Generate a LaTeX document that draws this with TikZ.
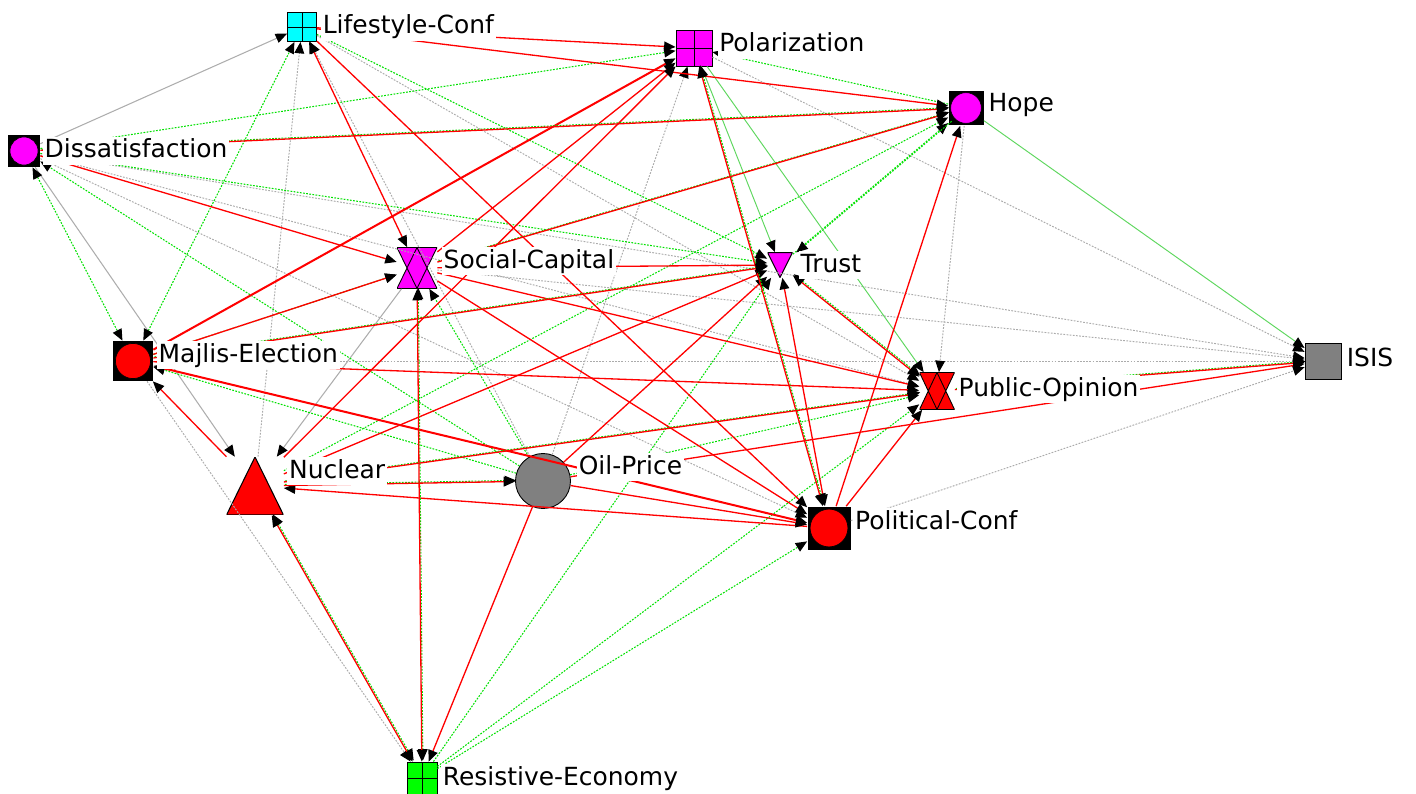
\documentclass[tikz,border=0pt]{standalone}
\usepackage{fontspec}
\setmainfont{DejaVu Sans}
\usetikzlibrary{positioning,arrows.meta}

\definecolor{mag}{RGB}{255,0,255}
\definecolor{cya}{RGB}{0,255,255}
\definecolor{lime}{RGB}{0,255,0}

% red edge with a green one beside it
\newcommand{\rgedge}[3][->]{%
  \draw[gdots,#1,transform canvas={shift={(0.6pt,0.6pt)}}] (#2) -- (#3);
  \draw[rline,#1] (#2) -- (#3);}

\begin{document}
\begin{tikzpicture}[x=0.02cm,y=-0.02cm,
  >={Triangle[length=6.5pt,width=5.5pt,color=black]},
  sq/.style={rectangle, draw=black, line width=0.5pt, inner sep=0pt, minimum size=#1},
  cross4/.style={path picture={\draw[line width=0.5pt]
      (path picture bounding box.north) -- (path picture bounding box.south)
      (path picture bounding box.west) -- (path picture bounding box.east);}},
  blk/.style 2 args={rectangle, fill=black, inner sep=0pt, minimum size=#1,
    path picture={\filldraw[fill=#2, draw=black, line width=0.4pt]
      (path picture bounding box.center) circle [radius=0.44*#1];}},
  tri/.style={rectangle, inner sep=0pt, path picture={\filldraw[fill=#1, draw=black, line width=0.6pt]
      (path picture bounding box.south west) -- (path picture bounding box.north)
      -- (path picture bounding box.south east) -- cycle;}},
  vtri/.style={rectangle, inner sep=0pt, path picture={\filldraw[fill=#1, draw=black, line width=0.6pt]
      (path picture bounding box.north west) -- (path picture bounding box.south)
      -- (path picture bounding box.north east) -- cycle;}},
  hglass/.style={rectangle, inner sep=0pt, path picture={
      \fill[#1] (path picture bounding box.north west) -- (path picture bounding box.south)
      -- (path picture bounding box.north east) -- cycle;
      \fill[#1] (path picture bounding box.south west) -- (path picture bounding box.north)
      -- (path picture bounding box.south east) -- cycle;
      \draw[line width=0.5pt] (path picture bounding box.north west) -- (path picture bounding box.south)
      -- (path picture bounding box.north east) -- cycle
      (path picture bounding box.south west) -- (path picture bounding box.north)
      -- (path picture bounding box.south east) -- cycle;}},
  lbl/.style={fill=white, inner sep=1pt, text height=0.38cm, text depth=0.1cm,
    font=\fontsize{14.2pt}{17pt}\selectfont},
  rline/.style={draw=red, line width=0.75pt},
  rthick/.style={draw=red, line width=1.15pt},
  gdots/.style={draw={rgb,255:red,0;green,225;blue,0}, line width=0.6pt, dash pattern=on 1pt off 0.8pt},
  gline/.style={draw={rgb,255:red,95;green,215;blue,95}, line width=0.55pt},
  ydots/.style={draw=black!33, line width=0.55pt, dash pattern=on 1pt off 0.8pt},
  yline/.style={draw=black!32, line width=0.6pt}]

\useasboundingbox (0,0) rectangle (1416,794);

% actors
\node[blk={0.64cm}{mag}] (DI) at (24,151) {};
\node[sq=0.58cm, fill=cya, cross4] (LC) at (302,27) {};
\node[sq=0.72cm, fill=mag, cross4] (PO) at (694,48) {};
\node[blk={0.7cm}{mag}] (HO) at (966,108) {};
\node[hglass=mag, minimum width=0.8cm, minimum height=0.82cm] (SC) at (417,268) {};
\node[vtri=mag, minimum width=0.5cm, minimum height=0.5cm] (TR) at (780,265) {};
\node[blk={0.8cm}{red}] (ME) at (133,361) {};
\node[sq=0.72cm, fill=black!50] (IS) at (1323,361) {};
\node[hglass=red, minimum width=0.7cm, minimum height=0.74cm] (PU) at (937,391) {};
\node[tri=red, minimum width=1.14cm, minimum height=1.16cm] (NU) at (255,486) {};
\node[circle, draw=black, line width=0.5pt, fill=black!50, minimum size=1.1cm, inner sep=0pt] (OP) at (543,481) {};
\node[blk={0.86cm}{red}] (PC) at (829,528) {};
\node[sq=0.6cm, minimum height=0.64cm, fill=lime, cross4] (RE) at (422,778) {};

% grey ties
\draw[ydots,->] (NU) -- (LC);
\draw[ydots,->] (OP) -- (LC);
\draw[ydots,->] (LC) -- (PU);
\draw[ydots,->] (DI) -- (PU);
\draw[ydots,->] (DI) -- (PC);
\draw[ydots,->] (DI) -- (IS);
\draw[ydots,->] (PO) -- (IS);
\draw[ydots,->] (OP) -- (PO);
\draw[ydots,->] (ME) -- (IS);
\draw[ydots,->] (ME) -- (RE);
\draw[ydots,->] (SC) -- (IS);
\draw[ydots,->] (PC) -- (IS);
\draw[ydots,->] (HO) -- (PU);
\draw[yline,->] (DI) -- (LC);
\draw[yline,->] (DI) -- (NU);
\draw[yline,->] (SC) -- (NU);

% green ties
\draw[gdots,<->] (ME) -- (LC);
\draw[gdots,->] (LC) -- (TR);
\draw[gdots,->] (DI) -- (PO);
\draw[gdots,->] (DI) -- (TR);
\draw[gdots,->] (OP) -- (DI);
\draw[gdots,<->] (DI) -- (ME);
\draw[gdots,->] (HO) -- (PO);
\draw[gdots,->] (ME) -- (SC);
\draw[gdots,->] (OP) -- (SC);
\draw[gdots,->] (NU) -- (HO);
\draw[gdots,->] (OP) -- (ME);
\draw[gdots,->] (RE) -- (TR);
\draw[gdots,->] (RE) -- (PU);
\draw[gdots,->] (RE) -- (PC);
\draw[gdots,->] (OP) -- (PU);
\draw[gdots,->] (TR) -- (HO);
\draw[gdots,->,transform canvas={shift={(2pt,1pt)}}] (HO) -- (TR);
\draw[gline,->] (PO) -- (TR);
\draw[gline,->] (PO) -- (PU);
\draw[gline,->] (HO) -- (IS);

% red ties
\draw[rline,->] (LC) -- (PO);
\draw[rline,->] (LC) -- (HO);
\draw[rline,<->] (LC) -- (SC);
\draw[rline,->] (LC) -- (PC);
\draw[rline,->] (DI) -- (SC);
\draw[rthick,->] (ME) -- (PO);
\draw[rline,->] (SC) -- (PO);
\draw[rline,->] (NU) -- (PO);
\draw[rline,->] (ME) -- (SC);
\draw[rline,->] (SC) -- (TR);
\draw[rline,->] (SC) -- (PU);
\draw[rline,->] (SC) -- (PC);
\draw[rline,->] (NU) -- (TR);
\draw[rthick,<->] (ME) -- (PC);
\draw[rline,->] (ME) -- (PU);
\draw[rline,->] (NU) -- (ME);
\draw[rline,->] (PC) -- (NU);
\draw[rline,->] (OP) -- (RE);
\draw[rline,->] (OP) -- (TR);
\draw[rline,->] (OP) -- (IS);
\draw[rline,->] (PC) -- (PU);
\draw[rline,->] (PC) -- (HO);
\draw[rline,->] (OP) -- (PC);
\draw[rline,<->] (PC) -- (TR);

% red and green together
\rgedge{DI}{HO}
\rgedge[<->]{PO}{PC}
\rgedge{SC}{HO}
\rgedge{ME}{TR}
\rgedge[<->]{SC}{RE}
\rgedge{NU}{OP}
\rgedge{NU}{PU}
\rgedge[<->]{NU}{RE}
\rgedge[<->]{TR}{PU}
\rgedge{PU}{IS}

% names
\node[lbl, right=0.045cm of DI] (DIl) {Dissatisfaction};
\node[lbl, right=0.075cm of LC] (LCl) {Lifestyle-Conf};
\node[lbl, right=0.095cm of PO, yshift=0.06cm] (POl) {Polarization};
\node[lbl, right=0.055cm of HO, yshift=0.06cm] (HOl) {Hope};
\node[lbl, right=0.085cm of SC, yshift=0.14cm] (SCl) {Social-Capital};
\node[lbl, right=0.115cm of TR] (TRl) {Trust};
\node[lbl, right=0.065cm of ME, yshift=0.12cm] (MEl) {Majlis-Election};
\node[lbl, right=0.065cm of IS, yshift=0.04cm] (ISl) {ISIS};
\node[lbl, right=0.035cm of PU, yshift=0.04cm] (PUl) {Public-Opinion};
\node[lbl, right=0.065cm of NU, yshift=0.3cm] (NUl) {Nuclear};
\node[lbl, right=0.115cm of OP, yshift=0.28cm] (OPl) {Oil-Price};
\node[lbl, right=0.045cm of PC, yshift=0.12cm] (PCl) {Political-Conf};
\node[lbl, right=0.065cm of RE] (REl) {Resistive-Economy};
\end{tikzpicture}
\end{document}
